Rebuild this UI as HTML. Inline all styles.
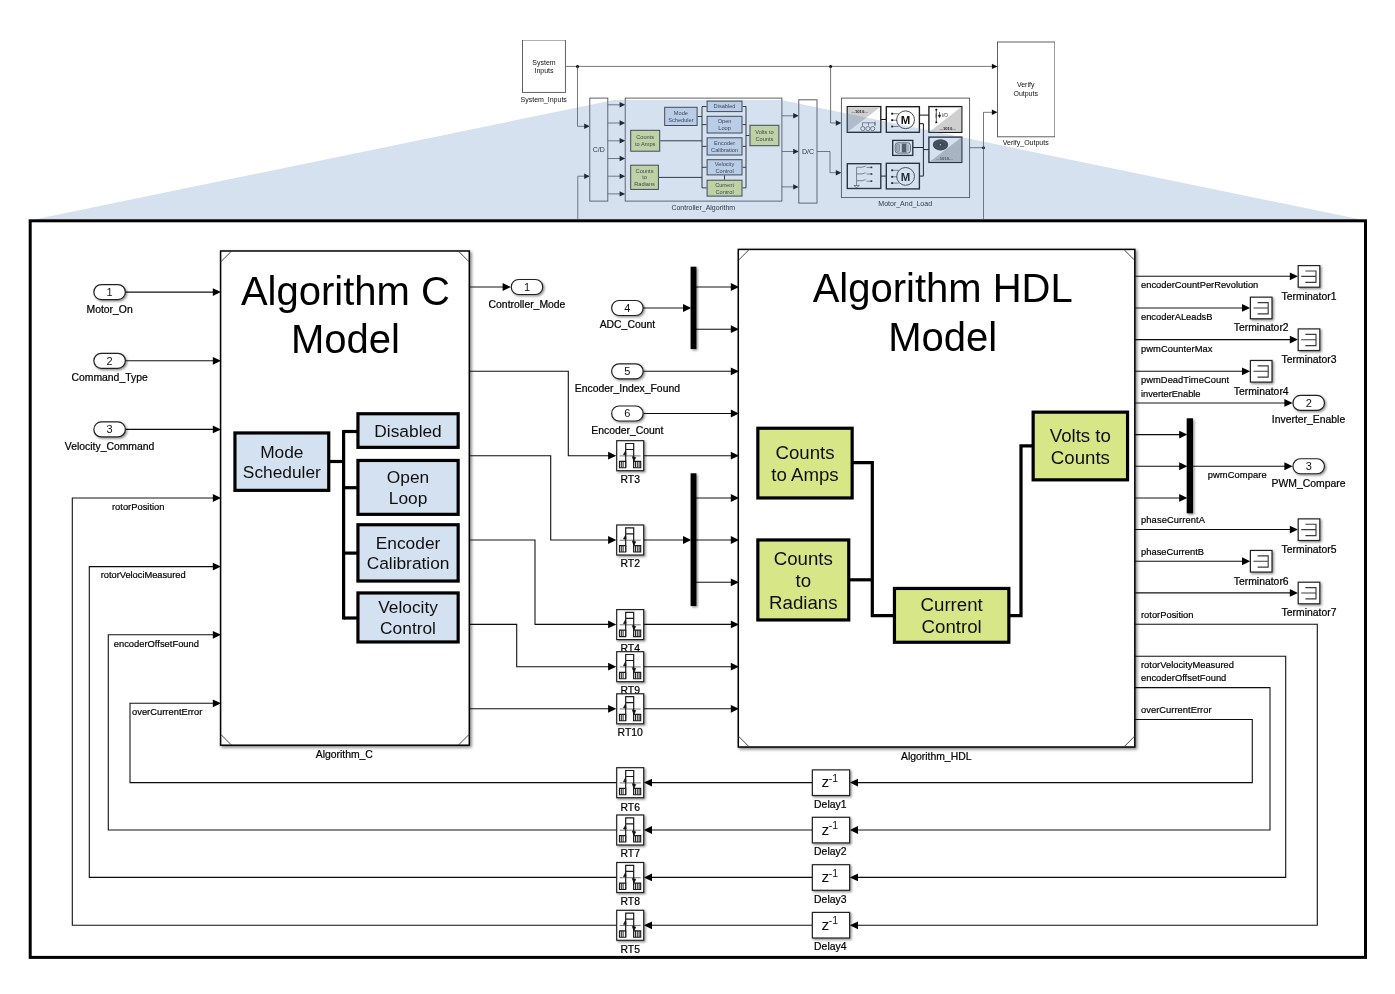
<!DOCTYPE html>
<html><head><meta charset="utf-8"><title>Controller Algorithm</title>
<style>
html,body{margin:0;padding:0;background:#fff;}
body{width:1395px;height:994px;overflow:hidden;position:relative;font-family:"Liberation Sans",sans-serif;}
svg{position:absolute;left:0;top:0;display:block;}
text{font-family:"Liberation Sans",sans-serif;}
</style></head><body>
<svg width="1395" height="994" viewBox="0 0 1395 994">
<defs>
<filter id="sh" x="-30%" y="-30%" width="170%" height="170%"><feDropShadow dx="1.3" dy="1.3" stdDeviation="1.1" flood-color="#000" flood-opacity="0.45"/></filter>
<filter id="shb" x="-5%" y="-5%" width="112%" height="112%"><feDropShadow dx="1.6" dy="1.6" stdDeviation="1.6" flood-color="#000" flood-opacity="0.5"/></filter>
<filter id="blur" x="0" y="0" width="100%" height="100%"><feGaussianBlur stdDeviation="0.3"/></filter>
<filter id="soft" x="0" y="0" width="100%" height="100%" filterUnits="userSpaceOnUse"><feGaussianBlur stdDeviation="0.38"/></filter>
</defs>
<rect width="1395" height="994" fill="#fff"/>

<g id="mini" filter="url(#blur)">
<rect x="522.50" y="40.00" width="42.90" height="52.40" fill="#fff" stroke="#505050" stroke-width="0.9"/>
<text x="544.00" y="64.60" font-size="7.0" text-anchor="middle" fill="#111" >System</text>
<text x="544.00" y="72.60" font-size="7.0" text-anchor="middle" fill="#111" >Inputs</text>
<text x="543.70" y="101.60" font-size="7.0" text-anchor="middle" fill="#111" >System_Inputs</text>
<rect x="997.50" y="42.00" width="57.40" height="94.80" fill="#fff" stroke="#505050" stroke-width="0.9"/>
<text x="1025.70" y="87.40" font-size="7.0" text-anchor="middle" fill="#111" >Verify</text>
<text x="1025.70" y="95.60" font-size="7.0" text-anchor="middle" fill="#111" >Outputs</text>
<text x="1025.70" y="145.20" font-size="7.0" text-anchor="middle" fill="#111" >Verify_Outputs</text>
<path d="M565.40 66.40 L993.00 66.40" fill="none" stroke="#4a4a4a" stroke-width="0.75" />
<path d="M997.50 66.40 L991.90 63.70 L991.90 69.10 Z" fill="#111"/>
<circle cx="577.5" cy="66.4" r="1.5" fill="#000"/><circle cx="830.6" cy="66.4" r="1.5" fill="#000"/>
<path d="M577.50 66.40 L577.50 126.30 L586.00 126.30" fill="none" stroke="#4a4a4a" stroke-width="0.75" />
<path d="M589.80 126.30 L584.20 123.60 L584.20 129.00 Z" fill="#111"/>
<path d="M577.80 219.00 L577.80 176.20 L586.00 176.20" fill="none" stroke="#4a4a4a" stroke-width="0.75" />
<path d="M589.80 176.20 L584.20 173.50 L584.20 178.90 Z" fill="#111"/>
<path d="M830.60 66.40 L830.60 123.00 L838.00 123.00" fill="none" stroke="#4a4a4a" stroke-width="0.75" />
<path d="M841.40 123.00 L835.80 120.30 L835.80 125.70 Z" fill="#111"/>
<rect x="589.80" y="98.10" width="18.00" height="103.00" fill="#fff" stroke="#505050" stroke-width="0.9"/>
<text x="598.80" y="152.30" font-size="7.0" text-anchor="middle" fill="#222" >C/D</text>
<path d="M607.80 104.80 L621.00 104.80" fill="none" stroke="#4a4a4a" stroke-width="0.75" />
<path d="M625.20 104.80 L619.60 102.10 L619.60 107.50 Z" fill="#111"/>
<path d="M607.80 123.00 L621.00 123.00" fill="none" stroke="#4a4a4a" stroke-width="0.75" />
<path d="M625.20 123.00 L619.60 120.30 L619.60 125.70 Z" fill="#111"/>
<path d="M607.80 140.80 L621.00 140.80" fill="none" stroke="#4a4a4a" stroke-width="0.75" />
<path d="M625.20 140.80 L619.60 138.10 L619.60 143.50 Z" fill="#111"/>
<path d="M607.80 158.50 L621.00 158.50" fill="none" stroke="#4a4a4a" stroke-width="0.75" />
<path d="M625.20 158.50 L619.60 155.80 L619.60 161.20 Z" fill="#111"/>
<path d="M607.80 176.20 L621.00 176.20" fill="none" stroke="#4a4a4a" stroke-width="0.75" />
<path d="M625.20 176.20 L619.60 173.50 L619.60 178.90 Z" fill="#111"/>
<path d="M607.80 193.90 L621.00 193.90" fill="none" stroke="#4a4a4a" stroke-width="0.75" />
<path d="M625.20 193.90 L619.60 191.20 L619.60 196.60 Z" fill="#111"/>
<rect x="625.20" y="98.10" width="156.70" height="103.00" fill="#fff" stroke="#505050" stroke-width="0.9"/>
<text x="703.30" y="210.20" font-size="7.0" text-anchor="middle" fill="#222" >Controller_Algorithm</text>
<path d="M781.90 115.80 L795.00 115.80" fill="none" stroke="#4a4a4a" stroke-width="0.75" />
<path d="M798.80 115.80 L793.20 113.10 L793.20 118.50 Z" fill="#111"/>
<path d="M781.90 151.50 L795.00 151.50" fill="none" stroke="#4a4a4a" stroke-width="0.75" />
<path d="M798.80 151.50 L793.20 148.80 L793.20 154.20 Z" fill="#111"/>
<path d="M781.90 186.90 L795.00 186.90" fill="none" stroke="#4a4a4a" stroke-width="0.75" />
<path d="M798.80 186.90 L793.20 184.20 L793.20 189.60 Z" fill="#111"/>
<rect x="798.80" y="99.80" width="18.20" height="103.30" fill="#fff" stroke="#505050" stroke-width="0.9"/>
<text x="808.00" y="154.10" font-size="7.0" text-anchor="middle" fill="#222" >D/C</text>
<path d="M817.00 151.50 L830.00 151.50 L830.00 172.70 L838.00 172.70" fill="none" stroke="#4a4a4a" stroke-width="0.75" />
<path d="M841.40 172.70 L835.80 170.00 L835.80 175.40 Z" fill="#111"/>
<rect x="841.40" y="98.10" width="128.20" height="99.50" fill="#fff" stroke="#505050" stroke-width="0.9"/>
<text x="905.20" y="206.20" font-size="7.0" text-anchor="middle" fill="#222" >Motor_And_Load</text>
<path d="M969.60 147.70 L983.50 147.70" fill="none" stroke="#4a4a4a" stroke-width="0.75" />
<circle cx="983.5" cy="147.7" r="1.5" fill="#000"/>
<path d="M983.50 219.00 L983.50 112.30 L993.00 112.30" fill="none" stroke="#4a4a4a" stroke-width="0.75" />
<path d="M997.50 112.30 L991.90 109.60 L991.90 115.00 Z" fill="#111"/>
<path d="M702.00 106.80 L702.00 187.90" fill="none" stroke="#111" stroke-width="0.9" />
<path d="M746.00 106.30 L746.00 187.90" fill="none" stroke="#111" stroke-width="0.9" />
<path d="M702.00 106.50 L706.60 106.50" fill="none" stroke="#111" stroke-width="0.9" />
<path d="M742.50 106.50 L746.00 106.50" fill="none" stroke="#111" stroke-width="0.9" />
<path d="M702.00 124.60 L706.60 124.60" fill="none" stroke="#111" stroke-width="0.9" />
<path d="M742.50 124.60 L746.00 124.60" fill="none" stroke="#111" stroke-width="0.9" />
<path d="M702.00 146.40 L706.60 146.40" fill="none" stroke="#111" stroke-width="0.9" />
<path d="M742.50 146.40 L746.00 146.40" fill="none" stroke="#111" stroke-width="0.9" />
<path d="M702.00 167.30 L706.60 167.30" fill="none" stroke="#111" stroke-width="0.9" />
<path d="M742.50 167.30 L746.00 167.30" fill="none" stroke="#111" stroke-width="0.9" />
<path d="M702.00 187.90 L706.60 187.90" fill="none" stroke="#111" stroke-width="0.9" />
<path d="M742.50 187.90 L746.00 187.90" fill="none" stroke="#111" stroke-width="0.9" />
<path d="M697.60 116.50 L702.00 116.50" fill="none" stroke="#111" stroke-width="0.9" />
<path d="M660.20 140.80 L702.00 140.80" fill="none" stroke="#111" stroke-width="0.9" />
<path d="M658.90 177.40 L702.00 177.40" fill="none" stroke="#111" stroke-width="0.9" />
<path d="M746.00 135.50 L749.50 135.50" fill="none" stroke="#111" stroke-width="0.9" />
<path d="M724.50 175.40 L724.50 179.70" fill="none" stroke="#111" stroke-width="0.9" />
<rect x="664.70" y="107.30" width="32.40" height="18.20" fill="#dae5f5" stroke="#3a3a3a" stroke-width="1"/>
<text x="680.90" y="115.06" font-size="5.65" text-anchor="middle" fill="#333" >Mode</text>
<text x="680.90" y="121.81" font-size="5.65" text-anchor="middle" fill="#333" >Scheduler</text>
<rect x="707.10" y="101.10" width="34.90" height="10.50" fill="#dae5f5" stroke="#3a3a3a" stroke-width="1"/>
<text x="724.55" y="108.38" font-size="5.65" text-anchor="middle" fill="#333" >Disabled</text>
<rect x="707.10" y="116.30" width="34.90" height="16.70" fill="#dae5f5" stroke="#3a3a3a" stroke-width="1"/>
<text x="724.55" y="123.31" font-size="5.65" text-anchor="middle" fill="#333" >Open</text>
<text x="724.55" y="130.06" font-size="5.65" text-anchor="middle" fill="#333" >Loop</text>
<rect x="707.10" y="137.80" width="34.90" height="17.20" fill="#dae5f5" stroke="#3a3a3a" stroke-width="1"/>
<text x="724.55" y="145.06" font-size="5.65" text-anchor="middle" fill="#333" >Encoder</text>
<text x="724.55" y="151.81" font-size="5.65" text-anchor="middle" fill="#333" >Calibration</text>
<rect x="707.10" y="159.70" width="34.90" height="15.20" fill="#dae5f5" stroke="#3a3a3a" stroke-width="1"/>
<text x="724.55" y="165.96" font-size="5.65" text-anchor="middle" fill="#333" >Velocity</text>
<text x="724.55" y="172.71" font-size="5.65" text-anchor="middle" fill="#333" >Control</text>
<rect x="707.10" y="180.20" width="34.90" height="15.90" fill="#e2eca0" stroke="#3a3a3a" stroke-width="1"/>
<text x="724.55" y="186.81" font-size="5.65" text-anchor="middle" fill="#333" >Current</text>
<text x="724.55" y="193.56" font-size="5.65" text-anchor="middle" fill="#333" >Control</text>
<rect x="630.70" y="130.30" width="29.00" height="20.90" fill="#e2eca0" stroke="#3a3a3a" stroke-width="1"/>
<text x="645.20" y="139.41" font-size="5.65" text-anchor="middle" fill="#333" >Counts</text>
<text x="645.20" y="146.16" font-size="5.65" text-anchor="middle" fill="#333" >to Amps</text>
<rect x="630.70" y="165.20" width="27.70" height="24.20" fill="#e2eca0" stroke="#3a3a3a" stroke-width="1"/>
<text x="644.55" y="172.58" font-size="5.65" text-anchor="middle" fill="#333" >Counts</text>
<text x="644.55" y="179.33" font-size="5.65" text-anchor="middle" fill="#333" >to</text>
<text x="644.55" y="186.08" font-size="5.65" text-anchor="middle" fill="#333" >Radians</text>
<rect x="750.00" y="125.30" width="28.90" height="20.40" fill="#e2eca0" stroke="#3a3a3a" stroke-width="1"/>
<text x="764.45" y="134.16" font-size="5.65" text-anchor="middle" fill="#333" >Volts to</text>
<text x="764.45" y="140.91" font-size="5.65" text-anchor="middle" fill="#333" >Counts</text>
<path d="M880.80 119.50 L886.30 119.50" fill="none" stroke="#111" stroke-width="1.0" />
<path d="M919.40 115.10 L928.90 115.10" fill="none" stroke="#111" stroke-width="1.0" />
<path d="M919.40 123.70 L923.40 123.70 L923.40 176.10 L919.40 176.10" fill="none" stroke="#111" stroke-width="1.0" />
<path d="M912.80 147.50 L923.40 147.50" fill="none" stroke="#111" stroke-width="1.0" />
<path d="M923.40 149.60 L928.90 149.60" fill="none" stroke="#111" stroke-width="1.0" />
<path d="M880.80 176.10 L886.30 176.10" fill="none" stroke="#111" stroke-width="1.0" />
<rect x="847.30" y="106.60" width="33.50" height="25.70" fill="#fff" stroke="#1a1a1a" stroke-width="1.35"/>
<path d="M847.8 107.1 H880.3 L847.8 131.8 Z" fill="#cfcfcf"/>
<text x="859.60" y="112.60" font-size="4.2" text-anchor="middle" fill="#222" font-weight="bold">...1010...</text>
<g fill="none" stroke="#333" stroke-width="0.6"><circle cx="862.8" cy="128.6" r="2.1"/><circle cx="867.9" cy="128.6" r="2.1"/><circle cx="872.7" cy="128.6" r="2.1"/><path d="M862.5 126 V122.8 H875 V126 M868.5 122.8 V125.5 M875 121.5 V125"/></g>
<rect x="886.30" y="106.70" width="33.10" height="25.60" fill="#fff" stroke="#1a1a1a" stroke-width="1.35"/>
<circle cx="905.6" cy="119.8" r="8.9" fill="#fff" stroke="#1a1a1a" stroke-width="0.8"/>
<text x="905.60" y="123.90" font-size="11.4" text-anchor="middle" fill="#111" font-weight="bold">M</text>
<path d="M892.2 113.70 H898.6" stroke="#222" stroke-width="0.6"/>
<rect x="891.2" y="112.80" width="1.9" height="1.8" fill="#111"/>
<path d="M892.2 120.20 H897.2" stroke="#222" stroke-width="0.6"/>
<rect x="891.2" y="119.30" width="1.9" height="1.8" fill="#111"/>
<path d="M892.2 126.50 H898.6" stroke="#222" stroke-width="0.6"/>
<rect x="891.2" y="125.60" width="1.9" height="1.8" fill="#111"/>
<rect x="886.30" y="163.30" width="33.10" height="25.60" fill="#fff" stroke="#1a1a1a" stroke-width="1.35"/>
<circle cx="905.6" cy="176.4" r="8.9" fill="#fff" stroke="#1a1a1a" stroke-width="0.8"/>
<text x="905.60" y="180.50" font-size="11.4" text-anchor="middle" fill="#111" font-weight="bold">M</text>
<path d="M892.2 170.30 H898.6" stroke="#222" stroke-width="0.6"/>
<rect x="891.2" y="169.40" width="1.9" height="1.8" fill="#111"/>
<path d="M892.2 176.80 H897.2" stroke="#222" stroke-width="0.6"/>
<rect x="891.2" y="175.90" width="1.9" height="1.8" fill="#111"/>
<path d="M892.2 183.10 H898.6" stroke="#222" stroke-width="0.6"/>
<rect x="891.2" y="182.20" width="1.9" height="1.8" fill="#111"/>
<rect x="928.90" y="106.60" width="32.90" height="25.70" fill="#fff" stroke="#1a1a1a" stroke-width="1.35"/>
<path d="M961.3 107.1 V131.8 H929.4 Z" fill="#cfcfcf"/>
<text x="947.60" y="130.10" font-size="4.2" text-anchor="middle" fill="#222" font-weight="bold">...1010...</text>
<path d="M936.3 109.5 V122.3" stroke="#222" stroke-width="0.8"/><rect x="935.4" y="108.8" width="1.8" height="1.6" fill="#111"/><rect x="935.4" y="121.6" width="1.8" height="1.6" fill="#111"/><rect x="935.6" y="113.6" width="1.4" height="4.2" fill="#555"/>
<path d="M939.5 112 V117 M938.2 115.2 L939.5 117.6 L940.8 115.2 Z" stroke="#222" stroke-width="0.7" fill="#222"/>
<text x="944.80" y="117.20" font-size="4.6" text-anchor="middle" fill="#333" font-style="italic">I/O</text>
<rect x="892.70" y="140.40" width="20.10" height="15.00" fill="#fff" stroke="#1a1a1a" stroke-width="1.35"/>
<rect x="895.2" y="142.8" width="15.3" height="10.3" rx="2.6" fill="#eee" stroke="#333" stroke-width="0.7"/><rect x="896.6" y="144.3" width="3" height="7.2" rx="1" fill="#bbb" stroke="#444" stroke-width="0.4"/><rect x="901.8" y="143.6" width="4.6" height="8.8" fill="#555"/><path d="M908 144.5 V151.3" stroke="#555" stroke-width="0.6"/>
<rect x="928.90" y="137.10" width="32.90" height="25.30" fill="#fff" stroke="#1a1a1a" stroke-width="1.35"/>
<path d="M961.3 137.6 V161.9 H929.4 Z" fill="#c4c4c4"/>
<ellipse cx="940.5" cy="144.8" rx="7.7" ry="5.6" fill="#3a3a3a"/><ellipse cx="940.5" cy="144.8" rx="5" ry="3.5" fill="none" stroke="#666" stroke-width="0.5"/><circle cx="940.5" cy="144.8" r="0.7" fill="#ddd"/>
<text x="944.40" y="159.50" font-size="4.2" text-anchor="middle" fill="#444" font-weight="bold">...1010...</text>
<rect x="847.30" y="163.70" width="33.50" height="24.80" fill="#fff" stroke="#1a1a1a" stroke-width="1.35"/>
<g fill="none" stroke="#333" stroke-width="0.6"><path d="M856.6 185.5 V167.2 H862.5 L865.6 166 M856.6 173.9 H862.5 L865.6 172.7 M856.6 180.7 H862.5 L865.6 179.5 M866.5 167.4 H871.5 M866.5 174 H871.5 M866.5 181.2 H871.5 M853.8 185.5 H859.4 L856.6 187.6 Z"/></g>
<rect x="870.6" y="166.60" width="1.7" height="1.6" fill="#222"/>
<rect x="870.6" y="173.20" width="1.7" height="1.6" fill="#222"/>
<rect x="870.6" y="180.40" width="1.7" height="1.6" fill="#222"/>
</g>
<polygon points="27,221 614,100 781,100 1368,221" fill="#4f81bd" fill-opacity="0.24"/>
<rect x="30.2" y="220.8" width="1335.3" height="736.6" fill="#fff" stroke="#000" stroke-width="3"/>
<g id="main" filter="url(#soft)">
<rect x="220.60" y="251.00" width="248.70" height="494.20" fill="#fff" stroke="#000" stroke-width="1.5" filter="url(#shb)"/>
<path d="M220.60 262.00 L231.60 251.00 M458.30 251.00 L469.30 262.00 M220.60 734.20 L231.60 745.20 M458.30 745.20 L469.30 734.20" stroke="#333" stroke-width="0.9" fill="none"/>
<rect x="738.30" y="249.40" width="396.50" height="497.60" fill="#fff" stroke="#000" stroke-width="1.5" filter="url(#shb)"/>
<path d="M738.30 260.40 L749.30 249.40 M1123.80 249.40 L1134.80 260.40 M738.30 736.00 L749.30 747.00 M1123.80 747.00 L1134.80 736.00" stroke="#333" stroke-width="0.9" fill="none"/>
<text x="344.30" y="758.00" font-size="10.4" text-anchor="middle" fill="#000" stroke="#000" stroke-width="0.22">Algorithm_C</text>
<text x="936.20" y="759.90" font-size="10.4" text-anchor="middle" fill="#000" stroke="#000" stroke-width="0.22">Algorithm_HDL</text>
<text x="345.40" y="305.40" font-size="40" text-anchor="middle" fill="#000" >Algorithm C</text>
<text x="345.40" y="353.30" font-size="40" text-anchor="middle" fill="#000" >Model</text>
<text x="942.70" y="302.30" font-size="40" text-anchor="middle" fill="#000" >Algorithm HDL</text>
<text x="942.70" y="350.50" font-size="40" text-anchor="middle" fill="#000" >Model</text>
<path d="M343.60 430.00 L343.60 619.50" fill="none" stroke="#000" stroke-width="3.2" />
<path d="M343.60 431.50 L358.00 431.50" fill="none" stroke="#000" stroke-width="3.2" />
<path d="M343.60 487.70 L358.00 487.70" fill="none" stroke="#000" stroke-width="3.2" />
<path d="M343.60 553.10 L358.00 553.10" fill="none" stroke="#000" stroke-width="3.2" />
<path d="M343.60 618.00 L358.00 618.00" fill="none" stroke="#000" stroke-width="3.2" />
<path d="M329.00 461.50 L343.60 461.50" fill="none" stroke="#000" stroke-width="3.2" />
<rect x="234.95" y="432.95" width="93.80" height="57.40" fill="#d4e1f0" stroke="#000" stroke-width="3.2"/>
<text x="281.85" y="457.55" font-size="17.33" text-anchor="middle" fill="#111" >Mode</text>
<text x="281.85" y="478.15" font-size="17.33" text-anchor="middle" fill="#111" >Scheduler</text>
<rect x="357.95" y="413.75" width="100.20" height="33.60" fill="#d4e1f0" stroke="#000" stroke-width="3.2"/>
<text x="408.05" y="436.75" font-size="17.33" text-anchor="middle" fill="#111" >Disabled</text>
<rect x="357.95" y="460.45" width="100.20" height="53.90" fill="#d4e1f0" stroke="#000" stroke-width="3.2"/>
<text x="408.05" y="483.30" font-size="17.33" text-anchor="middle" fill="#111" >Open</text>
<text x="408.05" y="503.90" font-size="17.33" text-anchor="middle" fill="#111" >Loop</text>
<rect x="357.95" y="524.75" width="100.20" height="56.30" fill="#d4e1f0" stroke="#000" stroke-width="3.2"/>
<text x="408.05" y="548.80" font-size="17.33" text-anchor="middle" fill="#111" >Encoder</text>
<text x="408.05" y="569.40" font-size="17.33" text-anchor="middle" fill="#111" >Calibration</text>
<rect x="357.95" y="592.95" width="100.20" height="49.00" fill="#d4e1f0" stroke="#000" stroke-width="3.2"/>
<text x="408.05" y="613.35" font-size="17.33" text-anchor="middle" fill="#111" >Velocity</text>
<text x="408.05" y="633.95" font-size="17.33" text-anchor="middle" fill="#111" >Control</text>
<path d="M852.00 462.60 L872.30 462.60 L872.30 615.60 L894.50 615.60" fill="none" stroke="#000" stroke-width="3.2" />
<path d="M848.50 579.80 L872.30 579.80" fill="none" stroke="#000" stroke-width="3.2" />
<path d="M1009.00 615.60 L1021.00 615.60 L1021.00 445.80 L1033.00 445.80" fill="none" stroke="#000" stroke-width="3.2" />
<rect x="757.85" y="428.25" width="94.30" height="69.70" fill="#d7e687" stroke="#000" stroke-width="3.2"/>
<text x="805.00" y="458.83" font-size="18.67" text-anchor="middle" fill="#111" >Counts</text>
<text x="805.00" y="480.73" font-size="18.67" text-anchor="middle" fill="#111" >to Amps</text>
<rect x="757.85" y="539.95" width="90.90" height="80.00" fill="#d7e687" stroke="#000" stroke-width="3.2"/>
<text x="803.30" y="564.73" font-size="18.67" text-anchor="middle" fill="#111" >Counts</text>
<text x="803.30" y="586.63" font-size="18.67" text-anchor="middle" fill="#111" >to</text>
<text x="803.30" y="608.53" font-size="18.67" text-anchor="middle" fill="#111" >Radians</text>
<rect x="894.45" y="588.45" width="114.40" height="53.80" fill="#d7e687" stroke="#000" stroke-width="3.2"/>
<text x="951.65" y="611.08" font-size="18.67" text-anchor="middle" fill="#111" >Current</text>
<text x="951.65" y="632.98" font-size="18.67" text-anchor="middle" fill="#111" >Control</text>
<rect x="1033.15" y="412.15" width="94.40" height="67.70" fill="#d7e687" stroke="#000" stroke-width="3.2"/>
<text x="1080.35" y="441.73" font-size="18.67" text-anchor="middle" fill="#111" >Volts to</text>
<text x="1080.35" y="463.63" font-size="18.67" text-anchor="middle" fill="#111" >Counts</text>
<path d="M125.00 292.10 L215.00 292.10" fill="none" stroke="#111" stroke-width="1.08" />
<path d="M221.00 292.10 L212.80 288.20 L212.80 296.00 Z" fill="#000"/>
<rect x="93.85" y="284.60" width="31.5" height="15" rx="7.5" fill="#fff" stroke="#222" stroke-width="1.2" filter="url(#sh)"/>
<text x="109.60" y="296.00" font-size="11" text-anchor="middle" fill="#111" >1</text>
<text x="109.60" y="312.60" font-size="10.4" text-anchor="middle" fill="#000" stroke="#000" stroke-width="0.22">Motor_On</text>
<path d="M125.00 360.80 L215.00 360.80" fill="none" stroke="#111" stroke-width="1.08" />
<path d="M221.00 360.80 L212.80 356.90 L212.80 364.70 Z" fill="#000"/>
<rect x="93.85" y="353.30" width="31.5" height="15" rx="7.5" fill="#fff" stroke="#222" stroke-width="1.2" filter="url(#sh)"/>
<text x="109.60" y="364.70" font-size="11" text-anchor="middle" fill="#111" >2</text>
<text x="109.60" y="381.30" font-size="10.4" text-anchor="middle" fill="#000" stroke="#000" stroke-width="0.22">Command_Type</text>
<path d="M125.00 429.40 L215.00 429.40" fill="none" stroke="#111" stroke-width="1.08" />
<path d="M221.00 429.40 L212.80 425.50 L212.80 433.30 Z" fill="#000"/>
<rect x="93.85" y="421.90" width="31.5" height="15" rx="7.5" fill="#fff" stroke="#222" stroke-width="1.2" filter="url(#sh)"/>
<text x="109.60" y="433.30" font-size="11" text-anchor="middle" fill="#111" >3</text>
<text x="109.60" y="449.90" font-size="10.4" text-anchor="middle" fill="#000" stroke="#000" stroke-width="0.22">Velocity_Command</text>
<path d="M617.00 925.30 L72.30 925.30 L72.30 498.00 L215.00 498.00" fill="none" stroke="#111" stroke-width="1.08" />
<path d="M221.00 498.00 L212.80 494.10 L212.80 501.90 Z" fill="#000"/>
<path d="M1135.00 624.30 L1317.30 624.30 L1317.30 925.30 L855.80 925.30" fill="none" stroke="#111" stroke-width="1.08" />
<path d="M849.80 925.30 L858.00 921.40 L858.00 929.20 Z" fill="#000"/>
<path d="M812.00 925.30 L649.80 925.30" fill="none" stroke="#111" stroke-width="1.08" />
<path d="M643.80 925.30 L652.00 921.40 L652.00 929.20 Z" fill="#000"/>
<path d="M617.00 877.40 L89.30 877.40 L89.30 566.60 L215.00 566.60" fill="none" stroke="#111" stroke-width="1.08" />
<path d="M221.00 566.60 L212.80 562.70 L212.80 570.50 Z" fill="#000"/>
<path d="M1135.00 656.30 L1285.70 656.30 L1285.70 877.40 L855.80 877.40" fill="none" stroke="#111" stroke-width="1.08" />
<path d="M849.80 877.40 L858.00 873.50 L858.00 881.30 Z" fill="#000"/>
<path d="M812.00 877.40 L649.80 877.40" fill="none" stroke="#111" stroke-width="1.08" />
<path d="M643.80 877.40 L652.00 873.50 L652.00 881.30 Z" fill="#000"/>
<path d="M617.00 830.00 L108.30 830.00 L108.30 634.80 L215.00 634.80" fill="none" stroke="#111" stroke-width="1.08" />
<path d="M221.00 634.80 L212.80 630.90 L212.80 638.70 Z" fill="#000"/>
<path d="M1135.00 687.60 L1270.00 687.60 L1270.00 830.00 L855.80 830.00" fill="none" stroke="#111" stroke-width="1.08" />
<path d="M849.80 830.00 L858.00 826.10 L858.00 833.90 Z" fill="#000"/>
<path d="M812.00 830.00 L649.80 830.00" fill="none" stroke="#111" stroke-width="1.08" />
<path d="M643.80 830.00 L652.00 826.10 L652.00 833.90 Z" fill="#000"/>
<path d="M617.00 782.60 L130.00 782.60 L130.00 703.30 L215.00 703.30" fill="none" stroke="#111" stroke-width="1.08" />
<path d="M221.00 703.30 L212.80 699.40 L212.80 707.20 Z" fill="#000"/>
<path d="M1135.00 719.50 L1252.30 719.50 L1252.30 782.60 L855.80 782.60" fill="none" stroke="#111" stroke-width="1.08" />
<path d="M849.80 782.60 L858.00 778.70 L858.00 786.50 Z" fill="#000"/>
<path d="M812.00 782.60 L649.80 782.60" fill="none" stroke="#111" stroke-width="1.08" />
<path d="M643.80 782.60 L652.00 778.70 L652.00 786.50 Z" fill="#000"/>
<text x="112.00" y="510.00" font-size="9.33" text-anchor="start" fill="#000" textLength="52.5" lengthAdjust="spacing" stroke="#000" stroke-width="0.2">rotorPosition</text>
<text x="100.70" y="578.30" font-size="9.33" text-anchor="start" fill="#000" textLength="85" lengthAdjust="spacing" stroke="#000" stroke-width="0.2">rotorVelociMeasured</text>
<text x="113.70" y="646.60" font-size="9.33" text-anchor="start" fill="#000" textLength="85.3" lengthAdjust="spacing" stroke="#000" stroke-width="0.2">encoderOffsetFound</text>
<text x="132.00" y="715.00" font-size="9.33" text-anchor="start" fill="#000" textLength="70.3" lengthAdjust="spacing" stroke="#000" stroke-width="0.2">overCurrentError</text>
<path d="M470.00 287.00 L504.80 287.00" fill="none" stroke="#111" stroke-width="1.08" />
<path d="M510.80 287.00 L502.60 283.10 L502.60 290.90 Z" fill="#000"/>
<rect x="511.25" y="279.50" width="31.5" height="15" rx="7.5" fill="#fff" stroke="#222" stroke-width="1.2" filter="url(#sh)"/>
<text x="527.00" y="290.90" font-size="11" text-anchor="middle" fill="#111" >1</text>
<text x="527.00" y="307.90" font-size="10.4" text-anchor="middle" fill="#000" stroke="#000" stroke-width="0.22">Controller_Mode</text>
<path d="M470.00 371.20 L568.30 371.20 L568.30 455.70 L610.30 455.70" fill="none" stroke="#111" stroke-width="1.08" />
<path d="M616.30 455.70 L608.10 451.80 L608.10 459.60 Z" fill="#000"/>
<path d="M470.00 455.70 L550.70 455.70 L550.70 540.00 L610.30 540.00" fill="none" stroke="#111" stroke-width="1.08" />
<path d="M616.30 540.00 L608.10 536.10 L608.10 543.90 Z" fill="#000"/>
<path d="M470.00 540.00 L535.00 540.00 L535.00 624.40 L610.30 624.40" fill="none" stroke="#111" stroke-width="1.08" />
<path d="M616.30 624.40 L608.10 620.50 L608.10 628.30 Z" fill="#000"/>
<path d="M470.00 624.40 L516.70 624.40 L516.70 666.70 L610.30 666.70" fill="none" stroke="#111" stroke-width="1.08" />
<path d="M616.30 666.70 L608.10 662.80 L608.10 670.60 Z" fill="#000"/>
<path d="M470.00 708.80 L610.30 708.80" fill="none" stroke="#111" stroke-width="1.08" />
<path d="M616.30 708.80 L608.10 704.90 L608.10 712.70 Z" fill="#000"/>
<path d="M643.80 455.70 L733.00 455.70" fill="none" stroke="#111" stroke-width="1.08" />
<path d="M739.00 455.70 L730.80 451.80 L730.80 459.60 Z" fill="#000"/>
<path d="M643.80 540.00 L685.20 540.00" fill="none" stroke="#111" stroke-width="1.08" />
<path d="M691.20 540.00 L683.00 536.10 L683.00 543.90 Z" fill="#000"/>
<path d="M643.80 624.40 L733.00 624.40" fill="none" stroke="#111" stroke-width="1.08" />
<path d="M739.00 624.40 L730.80 620.50 L730.80 628.30 Z" fill="#000"/>
<path d="M643.80 666.70 L733.00 666.70" fill="none" stroke="#111" stroke-width="1.08" />
<path d="M739.00 666.70 L730.80 662.80 L730.80 670.60 Z" fill="#000"/>
<path d="M643.80 708.80 L733.00 708.80" fill="none" stroke="#111" stroke-width="1.08" />
<path d="M739.00 708.80 L730.80 704.90 L730.80 712.70 Z" fill="#000"/>
<path d="M643.00 308.00 L685.20 308.00" fill="none" stroke="#111" stroke-width="1.08" />
<path d="M691.20 308.00 L683.00 304.10 L683.00 311.90 Z" fill="#000"/>
<path d="M643.00 371.30 L733.00 371.30" fill="none" stroke="#111" stroke-width="1.08" />
<path d="M739.00 371.30 L730.80 367.40 L730.80 375.20 Z" fill="#000"/>
<path d="M643.00 413.50 L733.00 413.50" fill="none" stroke="#111" stroke-width="1.08" />
<path d="M739.00 413.50 L730.80 409.60 L730.80 417.40 Z" fill="#000"/>
<rect x="611.65" y="300.50" width="31.5" height="15" rx="7.5" fill="#fff" stroke="#222" stroke-width="1.2" filter="url(#sh)"/>
<text x="627.40" y="311.90" font-size="11" text-anchor="middle" fill="#111" >4</text>
<text x="627.40" y="327.90" font-size="10.4" text-anchor="middle" fill="#000" stroke="#000" stroke-width="0.22">ADC_Count</text>
<rect x="611.65" y="363.80" width="31.5" height="15" rx="7.5" fill="#fff" stroke="#222" stroke-width="1.2" filter="url(#sh)"/>
<text x="627.40" y="375.20" font-size="11" text-anchor="middle" fill="#111" >5</text>
<text x="627.40" y="391.80" font-size="10.4" text-anchor="middle" fill="#000" stroke="#000" stroke-width="0.22">Encoder_Index_Found</text>
<rect x="611.65" y="406.00" width="31.5" height="15" rx="7.5" fill="#fff" stroke="#222" stroke-width="1.2" filter="url(#sh)"/>
<text x="627.40" y="417.40" font-size="11" text-anchor="middle" fill="#111" >6</text>
<text x="627.40" y="434.00" font-size="10.4" text-anchor="middle" fill="#000" stroke="#000" stroke-width="0.22">Encoder_Count</text>
<path d="M696.00 287.00 L733.00 287.00" fill="none" stroke="#111" stroke-width="1.08" />
<path d="M739.00 287.00 L730.80 283.10 L730.80 290.90 Z" fill="#000"/>
<path d="M696.00 329.20 L733.00 329.20" fill="none" stroke="#111" stroke-width="1.08" />
<path d="M739.00 329.20 L730.80 325.30 L730.80 333.10 Z" fill="#000"/>
<path d="M696.00 498.00 L733.00 498.00" fill="none" stroke="#111" stroke-width="1.08" />
<path d="M739.00 498.00 L730.80 494.10 L730.80 501.90 Z" fill="#000"/>
<path d="M696.00 540.00 L733.00 540.00" fill="none" stroke="#111" stroke-width="1.08" />
<path d="M739.00 540.00 L730.80 536.10 L730.80 543.90 Z" fill="#000"/>
<path d="M696.00 582.30 L733.00 582.30" fill="none" stroke="#111" stroke-width="1.08" />
<path d="M739.00 582.30 L730.80 578.40 L730.80 586.20 Z" fill="#000"/>
<rect x="690.6" y="266.7" width="5.80" height="82.30" fill="#000" filter="url(#sh)"/>
<rect x="690.6" y="473.3" width="5.80" height="132.70" fill="#000" filter="url(#sh)"/>
<g transform="translate(616.70 440.70)">
<rect x="0" y="0" width="27" height="30" fill="#fff" stroke="#222" stroke-width="1.2" filter="url(#sh)"/>
<path d="M3 15.2 H24" stroke="#666" stroke-width="0.9" fill="none"/>
<path d="M9 27 V2.8 H17 V27 M9 8.8 H17" stroke="#1a1a1a" stroke-width="1.2" fill="none"/>
<path d="M8.8 10.2 L6.8 14 L9.4 14 Z M17.2 20.4 L15.6 16 L19 16.8 Z" fill="#111" stroke="#111" stroke-width="0.7"/>
<path d="M2.8 20.6 H9 V27 H2.8 Z M17 20.6 H24 V27 H17 Z" fill="#fff" stroke="#1a1a1a" stroke-width="1.15"/>
<path d="M4.6 20.6 V27 M6.4 20.6 V27 M18.8 20.6 V27 M20.6 20.6 V27 M22.4 20.6 V27" stroke="#222" stroke-width="1" fill="none"/>
</g>
<text x="630.20" y="482.90" font-size="10.4" text-anchor="middle" fill="#000" stroke="#000" stroke-width="0.22">RT3</text>
<g transform="translate(616.70 525.00)">
<rect x="0" y="0" width="27" height="30" fill="#fff" stroke="#222" stroke-width="1.2" filter="url(#sh)"/>
<path d="M3 15.2 H24" stroke="#666" stroke-width="0.9" fill="none"/>
<path d="M9 27 V2.8 H17 V27 M9 8.8 H17" stroke="#1a1a1a" stroke-width="1.2" fill="none"/>
<path d="M8.8 10.2 L6.8 14 L9.4 14 Z M17.2 20.4 L15.6 16 L19 16.8 Z" fill="#111" stroke="#111" stroke-width="0.7"/>
<path d="M2.8 20.6 H9 V27 H2.8 Z M17 20.6 H24 V27 H17 Z" fill="#fff" stroke="#1a1a1a" stroke-width="1.15"/>
<path d="M4.6 20.6 V27 M6.4 20.6 V27 M18.8 20.6 V27 M20.6 20.6 V27 M22.4 20.6 V27" stroke="#222" stroke-width="1" fill="none"/>
</g>
<text x="630.20" y="567.20" font-size="10.4" text-anchor="middle" fill="#000" stroke="#000" stroke-width="0.22">RT2</text>
<g transform="translate(616.70 609.60)">
<rect x="0" y="0" width="27" height="30" fill="#fff" stroke="#222" stroke-width="1.2" filter="url(#sh)"/>
<path d="M3 15.2 H24" stroke="#666" stroke-width="0.9" fill="none"/>
<path d="M9 27 V2.8 H17 V27 M9 8.8 H17" stroke="#1a1a1a" stroke-width="1.2" fill="none"/>
<path d="M8.8 10.2 L6.8 14 L9.4 14 Z M17.2 20.4 L15.6 16 L19 16.8 Z" fill="#111" stroke="#111" stroke-width="0.7"/>
<path d="M2.8 20.6 H9 V27 H2.8 Z M17 20.6 H24 V27 H17 Z" fill="#fff" stroke="#1a1a1a" stroke-width="1.15"/>
<path d="M4.6 20.6 V27 M6.4 20.6 V27 M18.8 20.6 V27 M20.6 20.6 V27 M22.4 20.6 V27" stroke="#222" stroke-width="1" fill="none"/>
</g>
<text x="630.20" y="651.80" font-size="10.4" text-anchor="middle" fill="#000" stroke="#000" stroke-width="0.22">RT4</text>
<g transform="translate(616.70 651.70)">
<rect x="0" y="0" width="27" height="30" fill="#fff" stroke="#222" stroke-width="1.2" filter="url(#sh)"/>
<path d="M3 15.2 H24" stroke="#666" stroke-width="0.9" fill="none"/>
<path d="M9 27 V2.8 H17 V27 M9 8.8 H17" stroke="#1a1a1a" stroke-width="1.2" fill="none"/>
<path d="M8.8 10.2 L6.8 14 L9.4 14 Z M17.2 20.4 L15.6 16 L19 16.8 Z" fill="#111" stroke="#111" stroke-width="0.7"/>
<path d="M2.8 20.6 H9 V27 H2.8 Z M17 20.6 H24 V27 H17 Z" fill="#fff" stroke="#1a1a1a" stroke-width="1.15"/>
<path d="M4.6 20.6 V27 M6.4 20.6 V27 M18.8 20.6 V27 M20.6 20.6 V27 M22.4 20.6 V27" stroke="#222" stroke-width="1" fill="none"/>
</g>
<text x="630.20" y="693.90" font-size="10.4" text-anchor="middle" fill="#000" stroke="#000" stroke-width="0.22">RT9</text>
<g transform="translate(616.70 693.80)">
<rect x="0" y="0" width="27" height="30" fill="#fff" stroke="#222" stroke-width="1.2" filter="url(#sh)"/>
<path d="M3 15.2 H24" stroke="#666" stroke-width="0.9" fill="none"/>
<path d="M9 27 V2.8 H17 V27 M9 8.8 H17" stroke="#1a1a1a" stroke-width="1.2" fill="none"/>
<path d="M8.8 10.2 L6.8 14 L9.4 14 Z M17.2 20.4 L15.6 16 L19 16.8 Z" fill="#111" stroke="#111" stroke-width="0.7"/>
<path d="M2.8 20.6 H9 V27 H2.8 Z M17 20.6 H24 V27 H17 Z" fill="#fff" stroke="#1a1a1a" stroke-width="1.15"/>
<path d="M4.6 20.6 V27 M6.4 20.6 V27 M18.8 20.6 V27 M20.6 20.6 V27 M22.4 20.6 V27" stroke="#222" stroke-width="1" fill="none"/>
</g>
<text x="630.20" y="736.00" font-size="10.4" text-anchor="middle" fill="#000" stroke="#000" stroke-width="0.22">RT10</text>
<g transform="translate(616.70 767.70)">
<rect x="0" y="0" width="27" height="30" fill="#fff" stroke="#222" stroke-width="1.2" filter="url(#sh)"/>
<path d="M3 15.2 H24" stroke="#666" stroke-width="0.9" fill="none"/>
<path d="M9 27 V2.8 H17 V27 M9 8.8 H17" stroke="#1a1a1a" stroke-width="1.2" fill="none"/>
<path d="M8.8 10.2 L6.8 14 L9.4 14 Z M17.2 20.4 L15.6 16 L19 16.8 Z" fill="#111" stroke="#111" stroke-width="0.7"/>
<path d="M2.8 20.6 H9 V27 H2.8 Z M17 20.6 H24 V27 H17 Z" fill="#fff" stroke="#1a1a1a" stroke-width="1.15"/>
<path d="M4.6 20.6 V27 M6.4 20.6 V27 M18.8 20.6 V27 M20.6 20.6 V27 M22.4 20.6 V27" stroke="#222" stroke-width="1" fill="none"/>
</g>
<text x="630.20" y="810.90" font-size="10.4" text-anchor="middle" fill="#000" stroke="#000" stroke-width="0.22">RT6</text>
<g transform="translate(616.70 815.00)">
<rect x="0" y="0" width="27" height="30" fill="#fff" stroke="#222" stroke-width="1.2" filter="url(#sh)"/>
<path d="M3 15.2 H24" stroke="#666" stroke-width="0.9" fill="none"/>
<path d="M9 27 V2.8 H17 V27 M9 8.8 H17" stroke="#1a1a1a" stroke-width="1.2" fill="none"/>
<path d="M8.8 10.2 L6.8 14 L9.4 14 Z M17.2 20.4 L15.6 16 L19 16.8 Z" fill="#111" stroke="#111" stroke-width="0.7"/>
<path d="M2.8 20.6 H9 V27 H2.8 Z M17 20.6 H24 V27 H17 Z" fill="#fff" stroke="#1a1a1a" stroke-width="1.15"/>
<path d="M4.6 20.6 V27 M6.4 20.6 V27 M18.8 20.6 V27 M20.6 20.6 V27 M22.4 20.6 V27" stroke="#222" stroke-width="1" fill="none"/>
</g>
<text x="630.20" y="857.20" font-size="10.4" text-anchor="middle" fill="#000" stroke="#000" stroke-width="0.22">RT7</text>
<g transform="translate(616.70 862.50)">
<rect x="0" y="0" width="27" height="30" fill="#fff" stroke="#222" stroke-width="1.2" filter="url(#sh)"/>
<path d="M3 15.2 H24" stroke="#666" stroke-width="0.9" fill="none"/>
<path d="M9 27 V2.8 H17 V27 M9 8.8 H17" stroke="#1a1a1a" stroke-width="1.2" fill="none"/>
<path d="M8.8 10.2 L6.8 14 L9.4 14 Z M17.2 20.4 L15.6 16 L19 16.8 Z" fill="#111" stroke="#111" stroke-width="0.7"/>
<path d="M2.8 20.6 H9 V27 H2.8 Z M17 20.6 H24 V27 H17 Z" fill="#fff" stroke="#1a1a1a" stroke-width="1.15"/>
<path d="M4.6 20.6 V27 M6.4 20.6 V27 M18.8 20.6 V27 M20.6 20.6 V27 M22.4 20.6 V27" stroke="#222" stroke-width="1" fill="none"/>
</g>
<text x="630.20" y="904.70" font-size="10.4" text-anchor="middle" fill="#000" stroke="#000" stroke-width="0.22">RT8</text>
<g transform="translate(616.70 910.30)">
<rect x="0" y="0" width="27" height="30" fill="#fff" stroke="#222" stroke-width="1.2" filter="url(#sh)"/>
<path d="M3 15.2 H24" stroke="#666" stroke-width="0.9" fill="none"/>
<path d="M9 27 V2.8 H17 V27 M9 8.8 H17" stroke="#1a1a1a" stroke-width="1.2" fill="none"/>
<path d="M8.8 10.2 L6.8 14 L9.4 14 Z M17.2 20.4 L15.6 16 L19 16.8 Z" fill="#111" stroke="#111" stroke-width="0.7"/>
<path d="M2.8 20.6 H9 V27 H2.8 Z M17 20.6 H24 V27 H17 Z" fill="#fff" stroke="#1a1a1a" stroke-width="1.15"/>
<path d="M4.6 20.6 V27 M6.4 20.6 V27 M18.8 20.6 V27 M20.6 20.6 V27 M22.4 20.6 V27" stroke="#222" stroke-width="1" fill="none"/>
</g>
<text x="630.20" y="952.50" font-size="10.4" text-anchor="middle" fill="#000" stroke="#000" stroke-width="0.22">RT5</text>
<rect x="812.35" y="769.90" width="37.3" height="25.6" fill="#fff" stroke="#222" stroke-width="1.2" filter="url(#sh)"/>
<text x="825.40" y="787.10" font-size="15.5" text-anchor="middle" fill="#111" >z</text>
<text x="833.40" y="781.70" font-size="10.5" text-anchor="middle" fill="#111" >-1</text>
<text x="830.30" y="807.90" font-size="10.4" text-anchor="middle" fill="#000" stroke="#000" stroke-width="0.22">Delay1</text>
<rect x="812.35" y="817.30" width="37.3" height="25.6" fill="#fff" stroke="#222" stroke-width="1.2" filter="url(#sh)"/>
<text x="825.40" y="834.50" font-size="15.5" text-anchor="middle" fill="#111" >z</text>
<text x="833.40" y="829.10" font-size="10.5" text-anchor="middle" fill="#111" >-1</text>
<text x="830.30" y="855.30" font-size="10.4" text-anchor="middle" fill="#000" stroke="#000" stroke-width="0.22">Delay2</text>
<rect x="812.35" y="864.70" width="37.3" height="25.6" fill="#fff" stroke="#222" stroke-width="1.2" filter="url(#sh)"/>
<text x="825.40" y="881.90" font-size="15.5" text-anchor="middle" fill="#111" >z</text>
<text x="833.40" y="876.50" font-size="10.5" text-anchor="middle" fill="#111" >-1</text>
<text x="830.30" y="902.70" font-size="10.4" text-anchor="middle" fill="#000" stroke="#000" stroke-width="0.22">Delay3</text>
<rect x="812.35" y="912.40" width="37.3" height="25.6" fill="#fff" stroke="#222" stroke-width="1.2" filter="url(#sh)"/>
<text x="825.40" y="929.60" font-size="15.5" text-anchor="middle" fill="#111" >z</text>
<text x="833.40" y="924.20" font-size="10.5" text-anchor="middle" fill="#111" >-1</text>
<text x="830.30" y="950.40" font-size="10.4" text-anchor="middle" fill="#000" stroke="#000" stroke-width="0.22">Delay4</text>
<path d="M1135.00 276.30 L1292.00 276.30" fill="none" stroke="#111" stroke-width="1.08" />
<path d="M1298.00 276.30 L1289.80 272.40 L1289.80 280.20 Z" fill="#000"/>
<rect x="1298.20" y="265.60" width="21.6" height="21.6" fill="#fff" stroke="#222" stroke-width="1.2" filter="url(#sh)"/>
<path d="M1301.20 276.40 H1316.00 M1305.40 271.00 H1316.00 V282.30 H1305.40" fill="none" stroke="#3a3a3a" stroke-width="1.15"/>
<text x="1309.00" y="299.80" font-size="10.4" text-anchor="middle" fill="#000" stroke="#000" stroke-width="0.22">Terminator1</text>
<path d="M1135.00 307.96 L1244.20 307.96" fill="none" stroke="#111" stroke-width="1.08" />
<path d="M1250.20 307.96 L1242.00 304.06 L1242.00 311.86 Z" fill="#000"/>
<rect x="1250.40" y="297.16" width="21.6" height="21.6" fill="#fff" stroke="#222" stroke-width="1.2" filter="url(#sh)"/>
<path d="M1253.40 307.96 H1268.20 M1257.60 302.56 H1268.20 V313.86 H1257.60" fill="none" stroke="#3a3a3a" stroke-width="1.15"/>
<text x="1261.20" y="331.36" font-size="10.4" text-anchor="middle" fill="#000" stroke="#000" stroke-width="0.22">Terminator2</text>
<path d="M1135.00 339.62 L1292.00 339.62" fill="none" stroke="#111" stroke-width="1.08" />
<path d="M1298.00 339.62 L1289.80 335.72 L1289.80 343.52 Z" fill="#000"/>
<rect x="1298.20" y="328.92" width="21.6" height="21.6" fill="#fff" stroke="#222" stroke-width="1.2" filter="url(#sh)"/>
<path d="M1301.20 339.72 H1316.00 M1305.40 334.32 H1316.00 V345.62 H1305.40" fill="none" stroke="#3a3a3a" stroke-width="1.15"/>
<text x="1309.00" y="363.12" font-size="10.4" text-anchor="middle" fill="#000" stroke="#000" stroke-width="0.22">Terminator3</text>
<path d="M1135.00 371.28 L1244.20 371.28" fill="none" stroke="#111" stroke-width="1.08" />
<path d="M1250.20 371.28 L1242.00 367.38 L1242.00 375.18 Z" fill="#000"/>
<rect x="1250.40" y="360.48" width="21.6" height="21.6" fill="#fff" stroke="#222" stroke-width="1.2" filter="url(#sh)"/>
<path d="M1253.40 371.28 H1268.20 M1257.60 365.88 H1268.20 V377.18 H1257.60" fill="none" stroke="#3a3a3a" stroke-width="1.15"/>
<text x="1261.20" y="394.68" font-size="10.4" text-anchor="middle" fill="#000" stroke="#000" stroke-width="0.22">Terminator4</text>
<path d="M1135.00 402.94 L1286.60 402.94" fill="none" stroke="#111" stroke-width="1.08" />
<path d="M1292.60 402.94 L1284.40 399.04 L1284.40 406.84 Z" fill="#000"/>
<rect x="1292.95" y="395.44" width="31.5" height="15" rx="7.5" fill="#fff" stroke="#222" stroke-width="1.2" filter="url(#sh)"/>
<text x="1308.70" y="406.84" font-size="11" text-anchor="middle" fill="#111" >2</text>
<text x="1308.50" y="423.34" font-size="10.4" text-anchor="middle" fill="#000" stroke="#000" stroke-width="0.22">Inverter_Enable</text>
<path d="M1135.00 434.60 L1181.40 434.60" fill="none" stroke="#111" stroke-width="1.08" />
<path d="M1187.40 434.60 L1179.20 430.70 L1179.20 438.50 Z" fill="#000"/>
<path d="M1135.00 466.26 L1181.40 466.26" fill="none" stroke="#111" stroke-width="1.08" />
<path d="M1187.40 466.26 L1179.20 462.36 L1179.20 470.16 Z" fill="#000"/>
<path d="M1135.00 497.92 L1181.40 497.92" fill="none" stroke="#111" stroke-width="1.08" />
<path d="M1187.40 497.92 L1179.20 494.02 L1179.20 501.82 Z" fill="#000"/>
<path d="M1193.00 466.26 L1286.60 466.26" fill="none" stroke="#111" stroke-width="1.08" />
<path d="M1292.60 466.26 L1284.40 462.36 L1284.40 470.16 Z" fill="#000"/>
<rect x="1292.95" y="458.76" width="31.5" height="15" rx="7.5" fill="#fff" stroke="#222" stroke-width="1.2" filter="url(#sh)"/>
<text x="1308.70" y="470.16" font-size="11" text-anchor="middle" fill="#111" >3</text>
<text x="1308.50" y="486.66" font-size="10.4" text-anchor="middle" fill="#000" stroke="#000" stroke-width="0.22">PWM_Compare</text>
<rect x="1186.7" y="418.3" width="6.30" height="95.00" fill="#000" filter="url(#sh)"/>
<path d="M1135.00 529.58 L1292.00 529.58" fill="none" stroke="#111" stroke-width="1.08" />
<path d="M1298.00 529.58 L1289.80 525.68 L1289.80 533.48 Z" fill="#000"/>
<rect x="1298.20" y="518.88" width="21.6" height="21.6" fill="#fff" stroke="#222" stroke-width="1.2" filter="url(#sh)"/>
<path d="M1301.20 529.68 H1316.00 M1305.40 524.28 H1316.00 V535.58 H1305.40" fill="none" stroke="#3a3a3a" stroke-width="1.15"/>
<text x="1309.00" y="553.08" font-size="10.4" text-anchor="middle" fill="#000" stroke="#000" stroke-width="0.22">Terminator5</text>
<path d="M1135.00 561.24 L1244.20 561.24" fill="none" stroke="#111" stroke-width="1.08" />
<path d="M1250.20 561.24 L1242.00 557.34 L1242.00 565.14 Z" fill="#000"/>
<rect x="1250.40" y="550.44" width="21.6" height="21.6" fill="#fff" stroke="#222" stroke-width="1.2" filter="url(#sh)"/>
<path d="M1253.40 561.24 H1268.20 M1257.60 555.84 H1268.20 V567.14 H1257.60" fill="none" stroke="#3a3a3a" stroke-width="1.15"/>
<text x="1261.20" y="584.64" font-size="10.4" text-anchor="middle" fill="#000" stroke="#000" stroke-width="0.22">Terminator6</text>
<path d="M1135.00 592.90 L1292.00 592.90" fill="none" stroke="#111" stroke-width="1.08" />
<path d="M1298.00 592.90 L1289.80 589.00 L1289.80 596.80 Z" fill="#000"/>
<rect x="1298.20" y="582.20" width="21.6" height="21.6" fill="#fff" stroke="#222" stroke-width="1.2" filter="url(#sh)"/>
<path d="M1301.20 593.00 H1316.00 M1305.40 587.60 H1316.00 V598.90 H1305.40" fill="none" stroke="#3a3a3a" stroke-width="1.15"/>
<text x="1309.00" y="616.40" font-size="10.4" text-anchor="middle" fill="#000" stroke="#000" stroke-width="0.22">Terminator7</text>
<text x="1141.00" y="287.60" font-size="9.33" text-anchor="start" fill="#000" textLength="117.3" lengthAdjust="spacing" stroke="#000" stroke-width="0.2">encoderCountPerRevolution</text>
<text x="1141.00" y="319.60" font-size="9.33" text-anchor="start" fill="#000" textLength="71.5" lengthAdjust="spacing" stroke="#000" stroke-width="0.2">encoderALeadsB</text>
<text x="1141.00" y="351.50" font-size="9.33" text-anchor="start" fill="#000" textLength="71.5" lengthAdjust="spacing" stroke="#000" stroke-width="0.2">pwmCounterMax</text>
<text x="1141.00" y="383.00" font-size="9.33" text-anchor="start" fill="#000" textLength="88" lengthAdjust="spacing" stroke="#000" stroke-width="0.2">pwmDeadTimeCount</text>
<text x="1141.00" y="397.00" font-size="9.33" text-anchor="start" fill="#000" textLength="59.5" lengthAdjust="spacing" stroke="#000" stroke-width="0.2">inverterEnable</text>
<text x="1207.70" y="478.00" font-size="9.33" text-anchor="start" fill="#000" textLength="59" lengthAdjust="spacing" stroke="#000" stroke-width="0.2">pwmCompare</text>
<text x="1141.00" y="523.00" font-size="9.33" text-anchor="start" fill="#000" textLength="64" lengthAdjust="spacing" stroke="#000" stroke-width="0.2">phaseCurrentA</text>
<text x="1141.00" y="554.80" font-size="9.33" text-anchor="start" fill="#000" textLength="63" lengthAdjust="spacing" stroke="#000" stroke-width="0.2">phaseCurrentB</text>
<text x="1141.00" y="618.00" font-size="9.33" text-anchor="start" fill="#000" textLength="52.5" lengthAdjust="spacing" stroke="#000" stroke-width="0.2">rotorPosition</text>
<text x="1141.00" y="668.30" font-size="9.33" text-anchor="start" fill="#000" textLength="93" lengthAdjust="spacing" stroke="#000" stroke-width="0.2">rotorVelocityMeasured</text>
<text x="1141.00" y="681.00" font-size="9.33" text-anchor="start" fill="#000" textLength="85.3" lengthAdjust="spacing" stroke="#000" stroke-width="0.2">encoderOffsetFound</text>
<text x="1141.00" y="713.00" font-size="9.33" text-anchor="start" fill="#000" textLength="70.6" lengthAdjust="spacing" stroke="#000" stroke-width="0.2">overCurrentError</text>
</g>
</svg></body></html>
